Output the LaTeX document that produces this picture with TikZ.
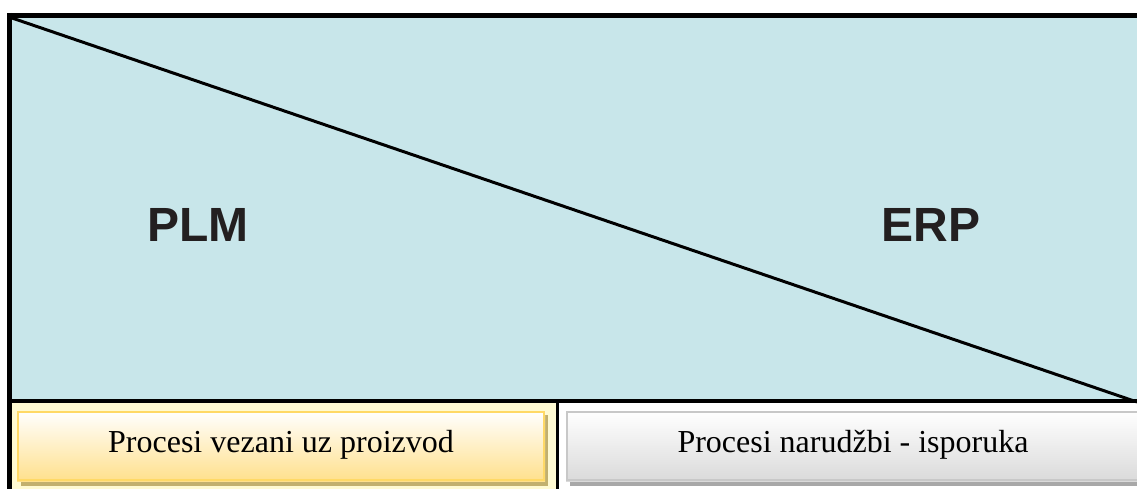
\documentclass[tikz,border=0pt]{standalone}
\usepackage{fontspec}
\setmainfont{Liberation Serif}
\newfontfamily\labelfont{Liberation Sans}
\definecolor{bgblue}{HTML}{C8E6EA}
\definecolor{cellyellow}{HTML}{FFFAD2}
\definecolor{btnyellow}{HTML}{FFE08C}
\definecolor{btnyellowborder}{HTML}{FFD966}
\definecolor{shadowyellow}{HTML}{C2B06E}
\definecolor{btngray}{HTML}{DADADA}
\definecolor{btngrayborder}{HTML}{C8C8C8}
\definecolor{shadowgray}{HTML}{A8A8A8}
\definecolor{inkdark}{HTML}{231F20}
\tikzset{
  big/.style={font=\labelfont\bfseries\fontsize{48}{48}\selectfont, text=inkdark, inner sep=0pt},
  btntext/.style={font=\fontsize{32}{32}\selectfont, text=black, inner sep=0pt},
  frameline/.style={draw=black, line width=5pt},
}
\begin{document}
\begin{tikzpicture}[x=1pt,y=-1pt]
\useasboundingbox (0,0) rectangle (1137,489);
% backgrounds
\fill[bgblue] (12,18) rectangle (1137,400);
\fill[cellyellow] (12,403) rectangle (557,489);
\fill[white] (559,403) rectangle (1137,489);
% corner coordinates
\coordinate (tl) at (12,18);
\coordinate (br) at (1137,402);
\coordinate (divtop) at (557.5,403);
\coordinate (divbot) at (557.5,489);
% diagonal
\draw[line width=3pt] (tl) -- (br);
% frame
\draw[frameline] (7,15.5) -- (1137,15.5);
\draw[frameline] (9.5,13) -- (9.5,489);
\draw[line width=4pt] (7,401) -- (1137,401);
\draw[line width=3.5pt] (divtop) -- (divbot);
% labels
\node[big] (plm) at (198,225) {PLM};
\node[big] (erp) at (931,225) {ERP};
% yellow button
\fill[shadowyellow] (21,415) rectangle (548,486);
\shade[top color=white, bottom color=btnyellow] (17,411) rectangle (545,481);
\draw[btnyellowborder, line width=2pt] (18,412) rectangle (544,480);
\node[btntext] (prod) at (281,445) {Procesi vezani uz proizvod};
% gray button
\fill[shadowgray] (570,415) rectangle (1137,486);
\shade[top color=white, bottom color=btngray] (566,411) rectangle (1142,481);
\draw[btngrayborder, line width=2pt] (567,412) rectangle (1141,480);
\node[btntext] (order) at (853,445) {Procesi narudžbi - isporuka};
\end{tikzpicture}
\end{document}
